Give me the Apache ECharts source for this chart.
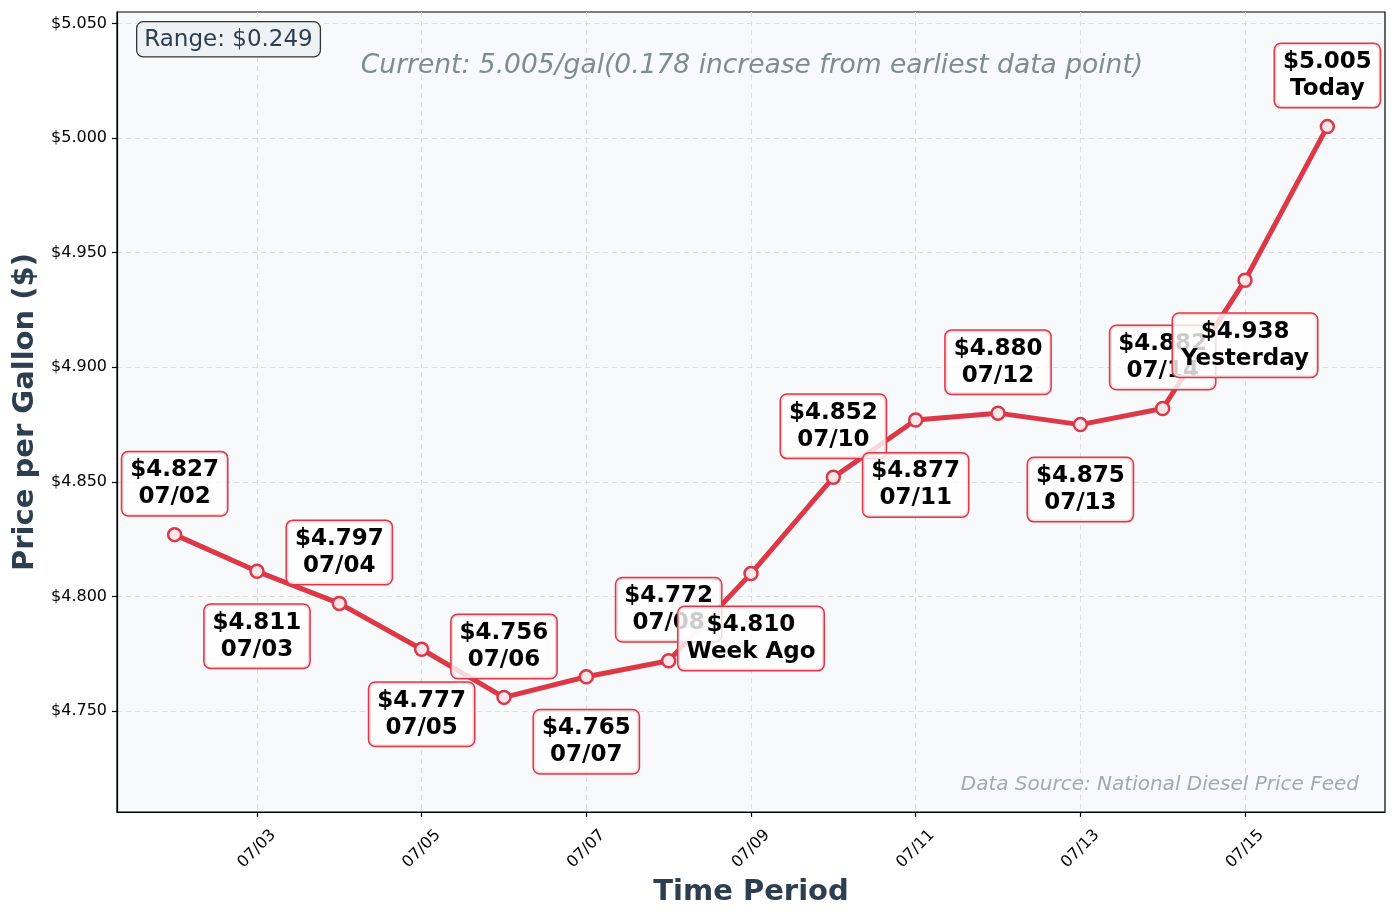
<!DOCTYPE html>
<html>
<head>
<meta charset="utf-8">
<script src="https://cdn.jsdelivr.net/npm/echarts@6/dist/echarts.min.js"></script>
<style>
  html, body { margin: 0; padding: 0; background: #ffffff; }
  #chart { width: 1397px; height: 918px; }
</style>
</head>
<body>
<div id="chart"></div>
<script>
// ---- data ----
const dates = ['07/02','07/03','07/04','07/05','07/06','07/07','07/08','07/09','07/10','07/11','07/12','07/13','07/14','07/15','07/16'];
const prices = [4.827, 4.811, 4.797, 4.777, 4.756, 4.765, 4.772, 4.810, 4.852, 4.877, 4.880, 4.875, 4.882, 4.938, 5.005];
const labelNotes = ['07/02','07/03','07/04','07/05','07/06','07/07','07/08','Week Ago','07/10','07/11','07/12','07/13','07/14','Yesterday','Today'];
const xTickLabels = ['07/03','07/05','07/07','07/09','07/11','07/13','07/15'];
const yTickValues = [4.75, 4.80, 4.85, 4.90, 4.95, 5.00, 5.05];
const rangeText = 'Range: $0.249';
const currentText = 'Current: 5.005/gal(0.178 increase from earliest data point)';
const sourceText = 'Data Source: National Diesel Price Feed';

const dayOf = s => parseInt(s.split('/')[1], 10);
const xTickValues = xTickLabels.map(dayOf);
const lineColor = '#DC3848';
const FONT = 'DejaVu Sans';

const seriesData = prices.map((p, i) => ({
  value: [dayOf(dates[i]), p],
  label: {
    show: true,
    position: 'inside',
    formatter: '$' + p.toFixed(3) + '\n' + labelNotes[i]
  }
}));

const chart = echarts.init(document.getElementById('chart'), null, { renderer: 'canvas' });
chart.setOption({
  animation: false,
  backgroundColor: '#ffffff',
  grid: {
    left: 117, right: 12, top: 12, bottom: 106,
    show: true, backgroundColor: '#f8f9fa', borderColor: '#000000', borderWidth: 1.2
  },
  xAxis: {
    type: 'value',
    min: 1.3, max: 16.7,
    name: 'Time Period',
    nameLocation: 'middle',
    nameGap: 62,
    nameTextStyle: { fontFamily: FONT, fontSize: 29, fontWeight: 'bold', color: '#2c3e50' },
    axisLine: { show: true, lineStyle: { color: '#000', width: 1.2 } },
    axisTick: { show: true, length: 5, customValues: xTickValues, lineStyle: { color: '#000', width: 1.2 } },
    axisLabel: {
      customValues: xTickValues,
      rotate: 45,
      align: 'center',
      verticalAlign: 'middle',
      margin: 37,
      fontFamily: FONT, fontSize: 16, color: '#000',
      formatter: v => xTickLabels[xTickValues.indexOf(Math.round(v))] || ''
    },
    splitLine: { show: true, lineStyle: { color: '#dddddd', type: [5, 4], width: 1 } }
  },
  yAxis: {
    type: 'value',
    min: 4.706, max: 5.055,
    name: 'Price per Gallon ($)',
    nameLocation: 'middle',
    nameGap: 77,
    nameTextStyle: { fontFamily: FONT, fontSize: 29, fontWeight: 'bold', color: '#2c3e50' },
    axisLine: { show: true, lineStyle: { color: '#000', width: 1.2 } },
    axisTick: { show: true, length: 5, customValues: yTickValues, lineStyle: { color: '#000', width: 1.2 } },
    axisLabel: {
      customValues: yTickValues,
      margin: 10,
      fontFamily: FONT, fontSize: 16, color: '#000',
      formatter: v => '$' + v.toFixed(3)
    },
    splitLine: { show: true, lineStyle: { color: '#dddddd', type: [5, 4], width: 1 } }
  },
  series: [{
    type: 'line',
    data: seriesData,
    symbol: 'circle',
    symbolSize: 13,
    lineStyle: { color: lineColor, width: 5 },
    itemStyle: { color: '#fce8eb', borderColor: lineColor, borderWidth: 2.5 },
    label: {
      fontFamily: FONT, fontSize: 23, fontWeight: 'bold', lineHeight: 27, color: '#000',
      align: 'center',
      backgroundColor: 'rgba(255,255,255,0.8)',
      borderColor: lineColor, borderWidth: 1.5, borderRadius: 6,
      padding: [5, 8, 4, 8]
    },
    labelLayout: params => ({ hideOverlap: false, dy: params.dataIndex % 2 === 0 ? -51 : 65 }),
    z: 3
  }],
  graphic: [
    {
      type: 'text', left: 136, top: 21, z: 100,
      style: {
        text: rangeText, fontFamily: FONT, fontSize: 23, fill: '#2c3e50',
        backgroundColor: '#eef2f4', borderColor: '#333333', borderWidth: 1.3, borderRadius: 6,
        padding: [6, 7, 5, 7]
      }
    },
    {
      type: 'text', x: 752, y: 66, z: 100,
      style: {
        text: currentText, fontFamily: FONT, fontSize: 26.5, fontStyle: 'italic', fill: '#7f8c8d',
        align: 'center', verticalAlign: 'middle'
      }
    },
    {
      type: 'text', x: 1359, y: 785, z: 100,
      style: {
        text: sourceText, fontFamily: FONT, fontSize: 20, fontStyle: 'italic', fill: '#a0abac',
        align: 'right', verticalAlign: 'middle'
      }
    }
  ]
});
</script>
</body>
</html>
